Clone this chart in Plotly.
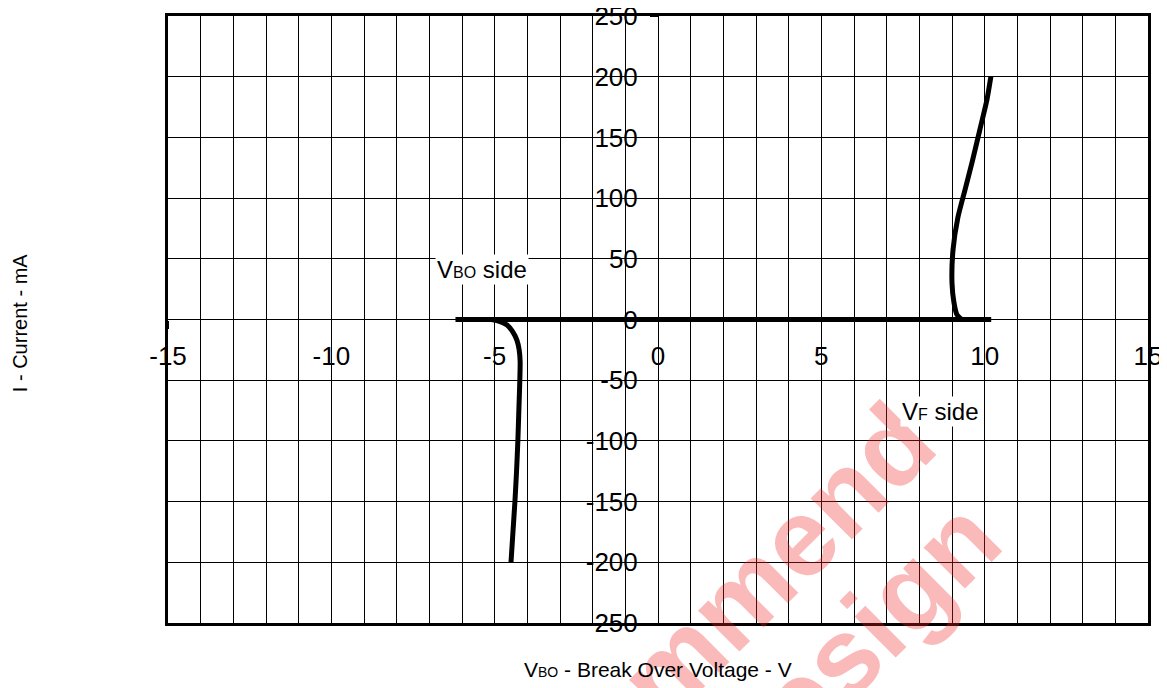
import plotly.graph_objects as go

# ---- data ----
off_x = [-6.2, 10.2]
off_y = [0, 0]

vbo_x = [-5.10, -4.85, -4.62, -4.45, -4.32, -4.25, -4.22, -4.23, -4.26, -4.29, -4.33, -4.38, -4.44, -4.50]
vbo_y = [0, -1.5, -4.5, -10, -17, -25, -35, -50, -75, -100, -125, -150, -175, -200]

vf_x = [9.30, 9.15, 9.06, 9.00, 9.03, 9.18, 9.40, 9.61, 9.85, 10.07, 10.19]
vf_y = [0, 4, 14, 30, 57, 84, 107, 129, 156, 181, 200]

x_ticks = [-15, -10, -5, 0, 5, 10, 15]
y_ticks = [-250, -200, -150, -100, -50, 0, 50, 100, 150, 200, 250]

FONT = "Arial, 'Liberation Sans', sans-serif"
LW = 5

fig = go.Figure()
for xs, ys in [(off_x, off_y), (vbo_x, vbo_y), (vf_x, vf_y)]:
    fig.add_trace(go.Scatter(x=xs, y=ys, mode="lines",
                             line=dict(color="black", width=LW, shape="spline", smoothing=0.6),
                             showlegend=False, hoverinfo="skip"))

common_grid = dict(showgrid=True, gridcolor="#000", gridwidth=1, zeroline=False,
                   showline=True, mirror=True, linecolor="black", linewidth=3,
                   showticklabels=False, ticks="", automargin=False)

fig.update_layout(
    width=1159, height=680,
    margin=dict(l=160, r=19, t=8, b=65, autoexpand=False),
    paper_bgcolor="white", plot_bgcolor="white",
    font=dict(family=FONT, color="black"),
    xaxis=dict(range=[-15, 15], dtick=1, tick0=0, **common_grid),
    yaxis=dict(range=[-250, 250], dtick=50, tick0=0, **common_grid),
    # crossing ticks + labels at the origin
    xaxis2=dict(range=[-15, 15], overlaying="x", anchor="free", position=0.5, side="bottom",
                tickvals=x_ticks, ticktext=[str(v) for v in x_ticks], ticks="outside", ticklen=8,
                tickcolor="black", tickwidth=1, showgrid=False, zeroline=False, showline=False,
                tickfont=dict(size=26, family=FONT), ticklabelstandoff=5, automargin=False,
                ticklabeloverflow="allow"),
    xaxis3=dict(range=[-15, 15], overlaying="x", anchor="free", position=0.5, side="bottom",
                tickvals=x_ticks, ticks="inside", ticklen=8, tickcolor="black", tickwidth=1,
                showticklabels=False, showgrid=False, zeroline=False, showline=False, automargin=False),
    yaxis2=dict(range=[-250, 250], overlaying="y", anchor="free", position=0.5, side="left",
                tickvals=y_ticks, ticktext=[str(v) for v in y_ticks], ticks="outside", ticklen=8,
                tickcolor="black", tickwidth=1, showgrid=False, zeroline=False, showline=False,
                tickfont=dict(size=26, family=FONT), ticklabelstandoff=7, automargin=False,
                ticklabeloverflow="allow"),
    yaxis3=dict(range=[-250, 250], overlaying="y", anchor="free", position=0.5, side="left",
                tickvals=y_ticks, ticks="inside", ticklen=8, tickcolor="black", tickwidth=1,
                showticklabels=False, showgrid=False, zeroline=False, showline=False, automargin=False),
)

# dummy invisible traces so overlay axes render
for xa, ya in [("x2", "y2"), ("x3", "y3")]:
    fig.add_trace(go.Scatter(x=[0], y=[0], xaxis=xa, yaxis=ya, mode="markers",
                             marker=dict(opacity=0), showlegend=False, hoverinfo="skip"))

# watermark
wm_color = "rgba(240,40,40,0.32)"
fig.add_annotation(text="<b>Not Recommend</b>", xref="paper", yref="paper", x=0.446, y=-0.178,
                   xanchor="center", yanchor="middle", textangle=-45, showarrow=False,
                   font=dict(size=110, color=wm_color, family=FONT))
fig.add_annotation(text="<b>for New Design</b>", xref="paper", yref="paper", x=0.539, y=-0.295,
                   xanchor="center", yanchor="middle", textangle=-45, showarrow=False,
                   font=dict(size=110, color=wm_color, family=FONT))

# in-plot labels
fig.add_annotation(text="V<span style='font-size:16px'>BO</span> side", x=-5.39, y=41,
                   showarrow=False, bgcolor="white", borderpad=1,
                   font=dict(size=24, family=FONT, color="black"))
fig.add_annotation(text="V<span style='font-size:16px'>F</span> side", x=8.66, y=-76,
                   showarrow=False, bgcolor="white", borderpad=1,
                   font=dict(size=24, family=FONT, color="black"))

# axis titles
fig.add_annotation(text="V<span style='font-size:14px'>BO</span> - Break Over Voltage - V",
                   xref="paper", yref="paper", x=0.5, y=-0.0774, xanchor="center", yanchor="middle",
                   showarrow=False, font=dict(size=21, family=FONT, color="black"))
fig.add_annotation(text="I - Current - mA", xref="paper", yref="paper", x=-0.151, y=0.494,
                   xanchor="center", yanchor="middle", textangle=-90,
                   showarrow=False, font=dict(size=20, family=FONT, color="black"))

fig.write_html("out.html")
